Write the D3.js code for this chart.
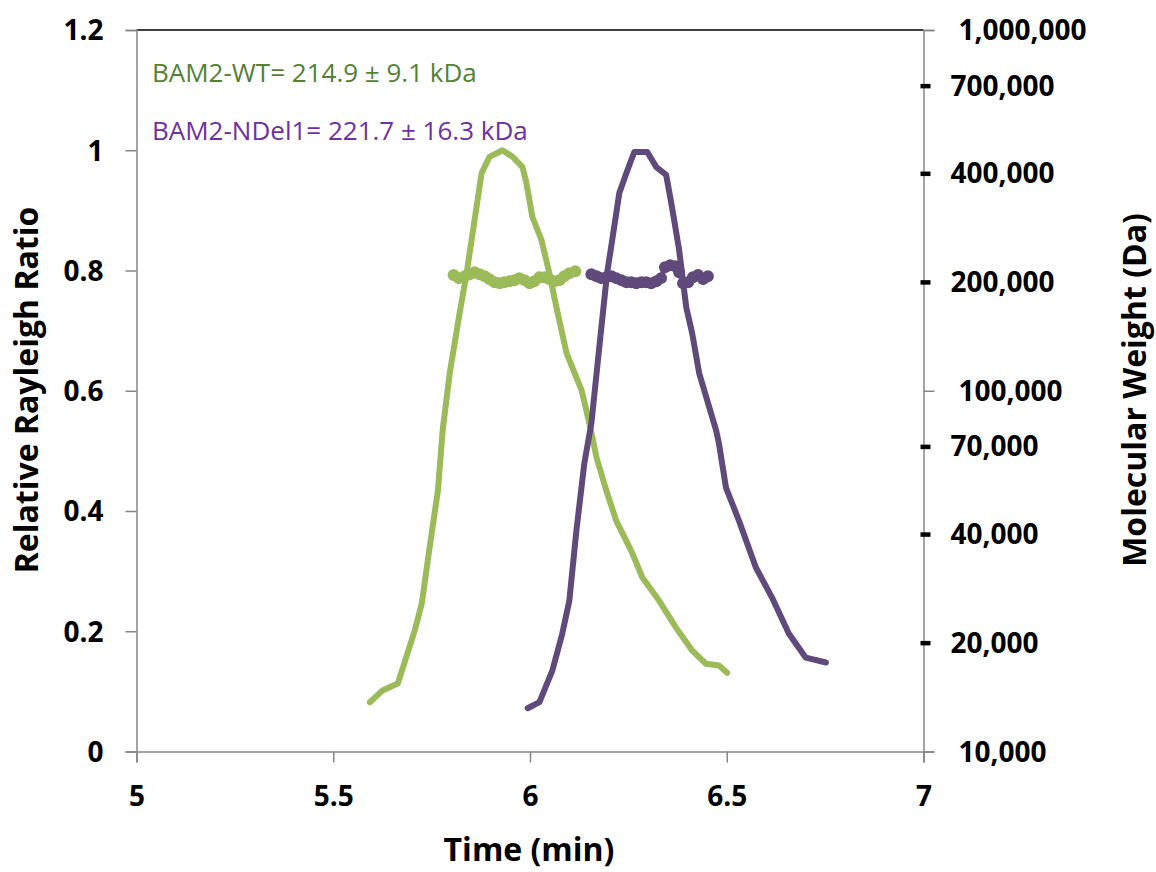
<!DOCTYPE html>
<html><head><meta charset="utf-8">
<script src="https://cdn.jsdelivr.net/npm/d3@7"></script>
<style>body{margin:0;background:#fff} svg{display:block}</style>
</head><body><svg id="c" width="1156" height="872"></svg>
<script>
// Rayleigh ratio traces
const wtTime  = [5.593,5.626,5.664,5.707,5.725,5.745,5.766,5.778,5.796,5.821,5.839,5.864,5.877,5.897,5.930,5.956,5.981,5.991,6.006,6.029,6.049,6.067,6.093,6.131,6.151,6.169,6.194,6.219,6.260,6.285,6.328,6.371,6.412,6.447,6.480,6.501];
const wtRatio = [0.082,0.102,0.113,0.201,0.246,0.340,0.434,0.534,0.629,0.729,0.796,0.905,0.962,0.989,1.000,0.989,0.972,0.945,0.889,0.851,0.796,0.739,0.662,0.601,0.546,0.489,0.434,0.384,0.330,0.290,0.251,0.206,0.168,0.146,0.143,0.131];
const ndTime  = [5.994,6.024,6.057,6.082,6.100,6.118,6.138,6.156,6.176,6.196,6.209,6.227,6.245,6.265,6.298,6.321,6.346,6.361,6.379,6.397,6.412,6.430,6.473,6.480,6.498,6.531,6.574,6.615,6.658,6.701,6.752];
const ndRatio = [0.072,0.082,0.135,0.196,0.251,0.368,0.479,0.546,0.672,0.796,0.851,0.929,0.962,0.997,0.997,0.972,0.959,0.905,0.834,0.739,0.696,0.629,0.534,0.513,0.439,0.384,0.306,0.256,0.196,0.156,0.148];
// Molecular weight points
const wtMwTime = [5.806,5.819,5.834,5.847,5.859,5.872,5.885,5.897,5.910,5.923,5.935,5.948,5.961,5.973,5.986,5.999,6.011,6.024,6.037,6.049,6.062,6.075,6.087,6.100,6.115];
const wtMw     = [209200,205200,207800,210500,213200,210500,207800,203900,200000,198700,200000,201300,202600,205200,202600,198700,201300,206500,206500,203900,201300,202600,207800,211800,214500];
const ndMwTime = [6.156,6.169,6.181,6.194,6.207,6.219,6.232,6.245,6.257,6.270,6.283,6.295,6.308,6.321,6.333,6.343,6.356,6.369,6.379,6.389,6.402,6.414,6.427,6.440,6.452];
const ndMw     = [210500,207800,205200,206500,207800,205200,202600,200000,200000,198700,200000,200000,198700,201300,205200,220100,222900,221500,213200,198700,200000,206500,209200,203900,207800];
// Axis ticks
const xTicks = [5,5.5,6,6.5,7];
const yTicks = [0,0.2,0.4,0.6,0.8,1,1.2];
const mwMajor = [10000,100000,1000000];
const mwMinor = [20000,40000,70000,200000,400000,700000];
const notes = ["BAM2-WT= 214.9 \u00b1 9.1 kDa","BAM2-NDel1= 221.7 \u00b1 16.3 kDa"];

const svg = d3.select("#c");
const font = "'Open Sans', sans-serif";
const x = d3.scaleLinear().domain([5,7]).range([136.5,923.5]);
const y = d3.scaleLinear().domain([0,1.2]).range([751.5,30]);
const yr = d3.scaleLog().domain([1e4,1e6]).range([751.5,30]);
const axisGray = "#868686";
const green = "#9BBB59", purple = "#604A7B";
const tickFs = 28;

// top line
svg.append("line").attr("x1",x(5)).attr("x2",x(7)).attr("y1",y(1.2)).attr("y2",y(1.2)).attr("stroke","#000").attr("stroke-width",1.3);

// bottom axis
const gx = svg.append("g").attr("transform",`translate(0,${y(0)})`)
  .call(d3.axisBottom(x).tickValues(xTicks).tickSize(11).tickFormat(d3.format("")));
gx.select(".domain").attr("stroke",axisGray).attr("stroke-width",1.5);
gx.selectAll(".tick line").attr("stroke",axisGray).attr("stroke-width",1.5);
gx.selectAll(".tick text").attr("y",45).attr("dy","0.35em").attr("font-family",font).attr("font-weight","bold").attr("font-size",tickFs).attr("fill","#000");

// left axis
const gy = svg.append("g").attr("transform",`translate(${x(5)},0)`)
  .call(d3.axisLeft(y).tickValues(yTicks).tickSize(11).tickFormat(d3.format("")));
gy.select(".domain").attr("stroke",axisGray).attr("stroke-width",1.5);
gy.selectAll(".tick line").attr("stroke",axisGray).attr("stroke-width",1.5);
gy.selectAll(".tick text").attr("x",-33).attr("dy","0.35em").attr("font-family",font).attr("font-weight","bold").attr("font-size",tickFs).attr("fill","#000");

// right axis
const gr = svg.append("g").attr("transform",`translate(${x(7)},0)`)
  .call(d3.axisRight(yr).tickValues(mwMajor).tickSize(11).tickFormat(d3.format(",")));
gr.select(".domain").attr("stroke",axisGray).attr("stroke-width",1.5);
gr.selectAll(".tick line").attr("stroke",axisGray).attr("stroke-width",1.5);
gr.selectAll(".tick text").attr("x",35).attr("dy","0.35em").attr("font-family",font).attr("font-weight","bold").attr("font-size",tickFs).attr("fill","#000");
const gm = svg.append("g").selectAll("g").data(mwMinor).join("g").attr("transform",d=>`translate(${x(7)},${yr(d)})`);
gm.append("rect").attr("x",-3).attr("y",-2).attr("width",10).attr("height",4.5).attr("fill","#000");
gm.append("text").attr("x",27).attr("dy","0.35em").attr("font-family",font).attr("font-weight","bold").attr("font-size",tickFs).text(d3.format(","));

// titles
const tFs = 32;
svg.append("text").attr("x",529).attr("y",850).attr("dy","0.35em").attr("text-anchor","middle").attr("font-family",font).attr("font-weight","bold").attr("font-size",tFs).text("Time (min)");
svg.append("text").attr("transform","translate(27,390) rotate(-90)").attr("dy","0.35em").attr("text-anchor","middle").attr("font-family",font).attr("font-weight","bold").attr("font-size",tFs).text("Relative Rayleigh Ratio");
svg.append("text").attr("transform","translate(1135,390) rotate(-90)").attr("dy","0.35em").attr("text-anchor","middle").attr("font-family",font).attr("font-weight","bold").attr("font-size",tFs).text("Molecular Weight (Da)");

// notes
svg.append("text").attr("x",152).attr("y",73).attr("dy","0.35em").attr("font-family",font).attr("font-size",26).attr("fill","#538135").text(notes[0]);
svg.append("text").attr("x",152).attr("y",131).attr("dy","0.35em").attr("font-family",font).attr("font-size",26).attr("fill","#7030A0").text(notes[1]);

// lines
const line = d3.line().x(d=>x(d[0])).y(d=>y(d[1]));
const lineR = d3.line().x(d=>x(d[0])).y(d=>yr(d[1]));
const wt = wtTime.map((t,i)=>[t,wtRatio[i]]);
const nd = ndTime.map((t,i)=>[t,ndRatio[i]]);
const wtM = wtMwTime.map((t,i)=>[t,wtMw[i]]);
const ndM = ndMwTime.map((t,i)=>[t,ndMw[i]]);

function mwSeries(data,color){
  svg.append("path").attr("d",lineR(data)).attr("fill","none").attr("stroke",color).attr("stroke-width",5).attr("stroke-linejoin","round");
  svg.append("g").selectAll("circle").data(data).join("circle").attr("cx",d=>x(d[0])).attr("cy",d=>yr(d[1])).attr("r",6).attr("fill",color);
}
mwSeries(wtM,green);
mwSeries(ndM,purple);
svg.append("path").attr("d",line(wt)).attr("fill","none").attr("stroke",green).attr("stroke-width",6).attr("stroke-linejoin","round").attr("stroke-linecap","round");
svg.append("path").attr("d",line(nd)).attr("fill","none").attr("stroke",purple).attr("stroke-width",6).attr("stroke-linejoin","round").attr("stroke-linecap","round");
</script></body></html>
